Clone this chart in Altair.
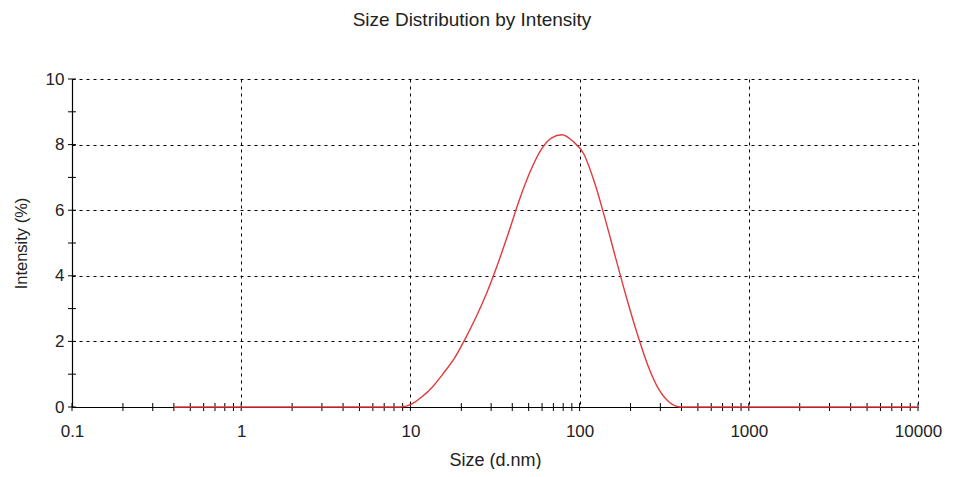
import altair as alt
import pandas as pd

# Size bins (d.nm) and intensity (%)
sizes = [0.4, 0.4632, 0.5365, 0.6213, 0.7195, 0.8332, 0.9649, 1.117, 1.294, 1.499,
         1.736, 2.01, 2.328, 2.696, 3.122, 3.615, 4.187, 4.849, 5.615, 6.503,
         7.531, 8.721, 10.1, 11.7, 13.54, 15.69, 18.17, 21.04, 24.36, 28.21,
         32.67, 37.84, 43.82, 50.75, 58.77, 68.06, 78.82, 91.28, 105.7, 122.4,
         141.8, 164.2, 190.1, 220.2, 255.0, 295.3, 342.0, 396.1, 458.7, 531.2,
         615.1, 712.4, 825.0, 955.4, 1106, 1281, 1484, 1718, 1990, 2305,
         2669, 3091, 3580, 4145, 4801, 5560, 6439, 7456, 8635, 10000]
intensity = [0, 0, 0, 0, 0, 0, 0, 0, 0, 0,
             0, 0, 0, 0, 0, 0, 0, 0, 0, 0,
             0, 0, 0.08, 0.31, 0.62, 1.03, 1.48, 2.07, 2.73, 3.47,
             4.33, 5.28, 6.28, 7.15, 7.82, 8.2, 8.3, 8.1, 7.72, 6.85,
             5.72, 4.5, 3.3, 2.2, 1.23, 0.52, 0.13, 0, 0, 0,
             0, 0, 0, 0, 0, 0, 0, 0, 0, 0,
             0, 0, 0, 0, 0, 0, 0, 0, 0, 0]

x_labels = [0.1, 1, 10, 100, 1000, 10000]
y_labels = [0, 2, 4, 6, 8, 10]
x_minor = [m * 10 ** e for e in range(-1, 4) for m in range(1, 10)] + [10000]
y_minor = list(range(0, 11))

W, H = 846, 328
FONT = "Liberation Sans"

df = pd.DataFrame({"size": sizes, "intensity": intensity})
xm = pd.DataFrame({"v": x_minor})
ym = pd.DataFrame({"v": y_minor})

xscale = alt.Scale(type="log", domain=[0.1, 10000], nice=False)
yscale = alt.Scale(domain=[0, 10], nice=False)

line = alt.Chart(df).mark_line(color="#e23a3c", strokeWidth=1.4, interpolate="monotone").encode(
    x=alt.X("size:Q", scale=xscale,
            axis=alt.Axis(values=x_labels, format="~g", title="Size (d.nm)",
                          grid=True, gridColor="#000", gridDash=[3, 4], gridWidth=1,
                          tickSize=0, labelPadding=16, titlePadding=12,
                          domainColor="#000", labelFontSize=17, titleFontSize=18,
                          labelFlush=False)),
    y=alt.Y("intensity:Q", scale=yscale,
            axis=alt.Axis(values=y_labels, title="Intensity (%)",
                          grid=True, gridColor="#000", gridDash=[3, 4], gridWidth=1,
                          tickSize=0, labelPadding=8, titlePadding=16,
                          domainColor="#000", labelFontSize=17, titleFontSize=16.5)),
)

xt = alt.Chart(xm).mark_rule(color="#000", strokeWidth=1).encode(
    x=alt.X("v:Q", scale=xscale), y=alt.value(H - 4), y2=alt.value(H + 4))
yt = alt.Chart(ym).mark_rule(color="#000", strokeWidth=1).encode(
    y=alt.Y("v:Q", scale=yscale), x=alt.value(-4), x2=alt.value(4))

chart = alt.layer(xt, yt, line).properties(
    width=W, height=H,
    title=alt.TitleParams("Size Distribution by Intensity", fontSize=19, font=FONT,
                          fontWeight="normal", color="#222", offset=40, dx=-23),
    autosize=alt.AutoSizeParams(type="none"),
    padding={"left": 64, "top": 71, "right": 28, "bottom": 62},
).configure_view(stroke=None).configure_axis(
    labelFont=FONT, titleFont=FONT, labelColor="#222", titleColor="#222",
    titleFontWeight="normal", domainWidth=1.2
)

chart.save("out.html", embed_options={"renderer": "svg", "actions": False})
